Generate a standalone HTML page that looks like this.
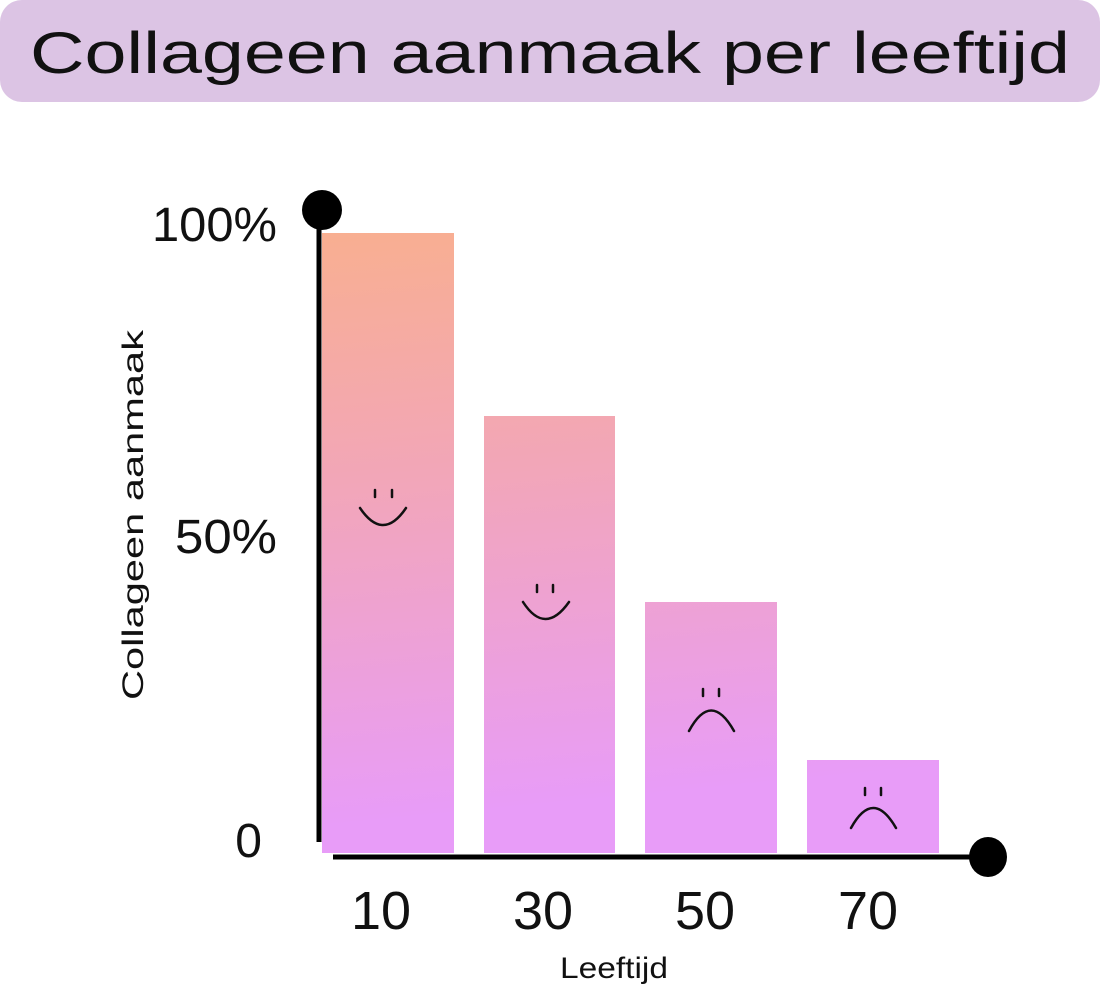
<!DOCTYPE html>
<html><head><meta charset="utf-8"><style>
html,body{margin:0;padding:0;background:#fff;}
svg{display:block;font-family:"Liberation Sans",sans-serif;}
</style></head><body>
<svg width="1100" height="989" viewBox="0 0 1100 989" xmlns="http://www.w3.org/2000/svg">
<defs>
<linearGradient id="g" gradientUnits="userSpaceOnUse" x1="0" y1="233" x2="60" y2="853">
<stop offset="0" stop-color="#f9b08c"/>
<stop offset="0.45" stop-color="#f2a6b8"/>
<stop offset="1" stop-color="#e89cf8"/>
</linearGradient>
</defs>
<rect x="0" y="0" width="1100" height="102" rx="22" fill="#dcc4e4"/>
<text x="550" y="73" text-anchor="middle" font-size="58" fill="#111" textLength="1040" lengthAdjust="spacingAndGlyphs">Collageen aanmaak per leeftijd</text>

<rect x="322" y="233" width="132" height="620" fill="url(#g)"/>
<rect x="484" y="416" width="131" height="437" fill="url(#g)"/>
<rect x="645" y="602" width="132" height="251" fill="url(#g)"/>
<rect x="807" y="760" width="132" height="93" fill="url(#g)"/>

<line x1="319" y1="215" x2="319" y2="842" stroke="#000" stroke-width="5"/>
<circle cx="322" cy="210" r="20" fill="#000"/>
<line x1="333" y1="857" x2="985" y2="857" stroke="#000" stroke-width="5"/>
<ellipse cx="988" cy="857" rx="19" ry="20" fill="#000"/>

<g fill="none" stroke="#111" stroke-width="2.5" stroke-linecap="round">
<line x1="375" y1="490" x2="375" y2="497"/><line x1="392" y1="490" x2="392" y2="497"/>
<path d="M360 508 Q383 542 406 508"/>
<line x1="537" y1="585" x2="537" y2="592"/><line x1="553" y1="585" x2="553" y2="592"/>
<path d="M523 602 Q545 636 569 602"/>
<line x1="703" y1="689" x2="703" y2="696"/><line x1="719" y1="689" x2="719" y2="696"/>
<path d="M689 731 Q711 690 734 731"/>
<line x1="865" y1="788" x2="865" y2="795"/><line x1="881" y1="788" x2="881" y2="795"/>
<path d="M851 828 Q873 788 896 828"/>
</g>

<g font-size="48" fill="#111" text-anchor="end">
<text x="277" y="241" textLength="125" lengthAdjust="spacingAndGlyphs">100%</text>
<text x="277" y="553" textLength="102" lengthAdjust="spacingAndGlyphs">50%</text>
<text x="262" y="857">0</text>
</g>
<g font-size="54" fill="#111" text-anchor="middle">
<text x="381" y="929">10</text>
<text x="543" y="929">30</text>
<text x="705" y="929">50</text>
<text x="868" y="929">70</text>
</g>
<text x="614" y="978" font-size="30" text-anchor="middle" fill="#111" textLength="108" lengthAdjust="spacingAndGlyphs">Leeftijd</text>
<text transform="translate(143,515) rotate(-90)" font-size="30" text-anchor="middle" fill="#111" textLength="370" lengthAdjust="spacingAndGlyphs">Collageen aanmaak</text>
</svg>
</body></html>
